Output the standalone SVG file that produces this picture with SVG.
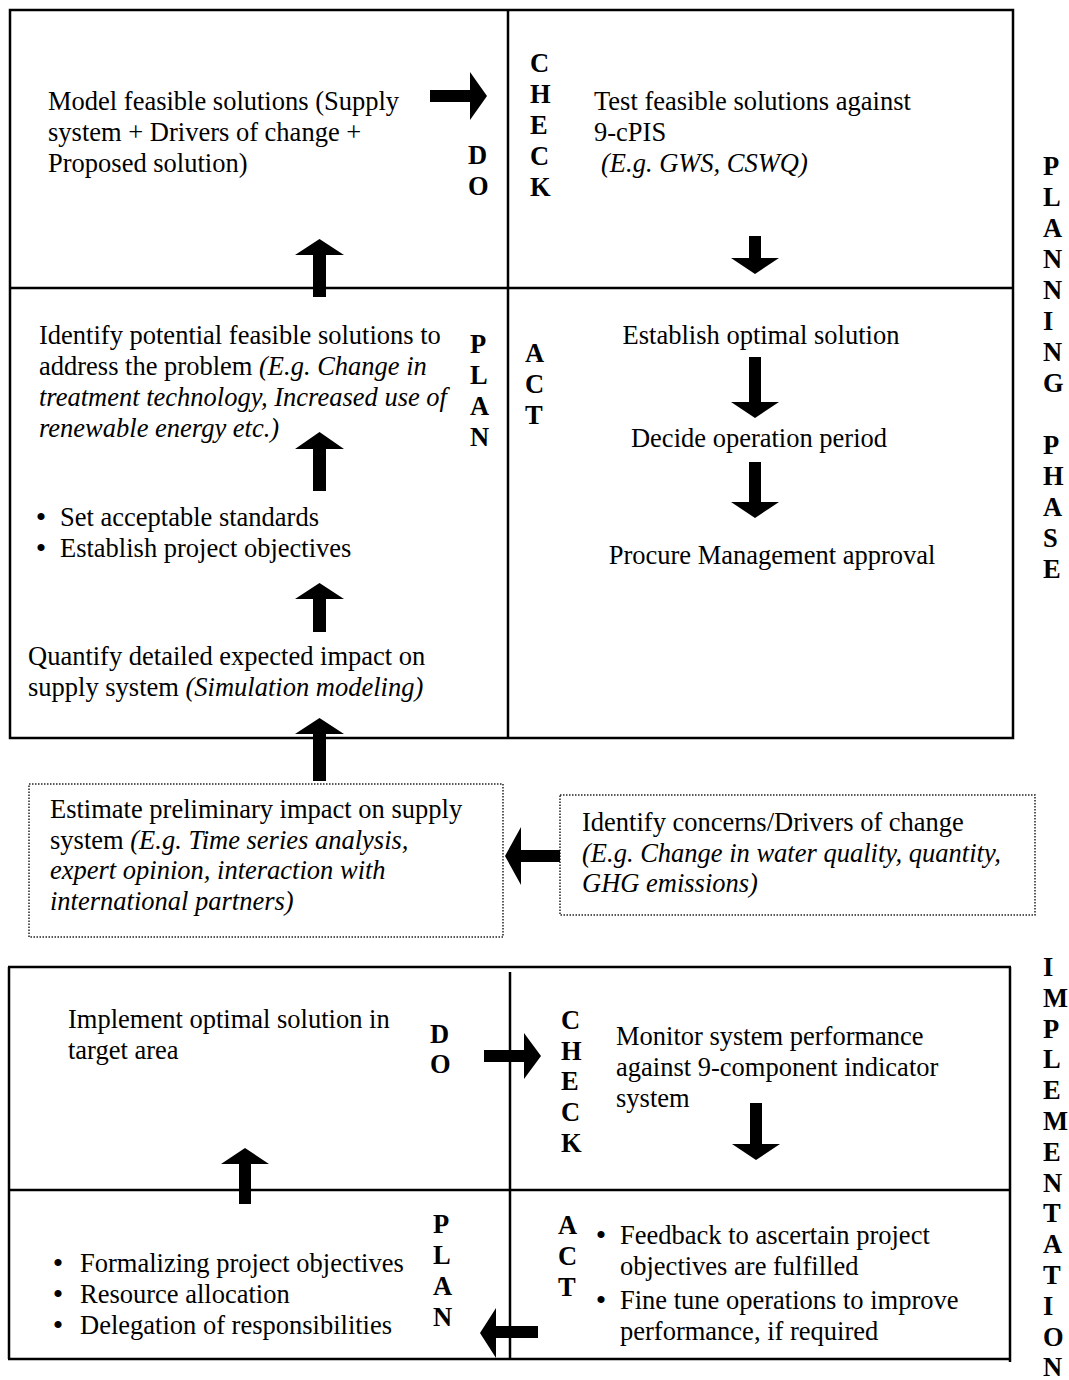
<svg xmlns="http://www.w3.org/2000/svg" width="1069" height="1380" viewBox="0 0 1069 1380">
<style>
text{font-family:"Liberation Serif","Times New Roman",serif;font-size:26.5px;fill:#000}
.i{font-style:italic}
.b{font-weight:bold}
.c{text-anchor:middle}
.bu{text-anchor:middle;font-size:30px}
.frame{fill:none;stroke:#000;stroke-width:2.5}
.dot{fill:none;stroke:#222;stroke-width:1.5;stroke-dasharray:1.5 1.5}
.arrow{fill:#000;stroke:none}
</style>
<rect width="1069" height="1380" fill="#fff"/>

<g id="planning-frame">
<rect class="frame" x="10" y="10" width="1003" height="728"/>
<line class="frame" x1="508" y1="10" x2="508" y2="738"/>
<line class="frame" x1="10" y1="288" x2="1013" y2="288"/>
</g>

<g id="planning-do">
<text x="48" y="110">Model feasible solutions (Supply</text>
<text x="48" y="141">system + Drivers of change +</text>
<text x="48" y="172">Proposed solution)</text>
<text class="b" x="468" y="164">D</text>
<text class="b" x="468" y="195">O</text>
</g>

<g id="planning-check">
<text class="b" x="530" y="72">C</text>
<text class="b" x="530" y="103">H</text>
<text class="b" x="530" y="134">E</text>
<text class="b" x="530" y="165">C</text>
<text class="b" x="530" y="196">K</text>
<text x="594" y="110">Test feasible solutions against</text>
<text x="594" y="141">9-cPIS</text>
<text class="i" x="601" y="172">(E.g. GWS, CSWQ)</text>
</g>

<g id="planning-plan">
<text x="39" y="344">Identify potential feasible solutions to</text>
<text x="39" y="375">address the problem <tspan class="i">(E.g. Change in</tspan></text>
<text class="i" x="39" y="406">treatment technology, Increased use of</text>
<text class="i" x="39" y="437">renewable energy etc.)</text>
<text class="b" x="470" y="353">P</text>
<text class="b" x="470" y="384">L</text>
<text class="b" x="470" y="415">A</text>
<text class="b" x="470" y="446">N</text>
<text class="bu" x="41" y="527">•</text>
<text x="60" y="526">Set acceptable standards</text>
<text class="bu" x="41" y="558">•</text>
<text x="60" y="557">Establish project objectives</text>
<text x="28" y="665">Quantify detailed expected impact on</text>
<text x="28" y="696">supply system <tspan class="i">(Simulation modeling)</tspan></text>
</g>

<g id="planning-act">
<text class="b" x="525" y="362">A</text>
<text class="b" x="525" y="393">C</text>
<text class="b" x="525" y="424">T</text>
<text class="c" x="761" y="344">Establish optimal solution</text>
<text class="c" x="759" y="447">Decide operation period</text>
<text class="c" x="772" y="564">Procure Management approval</text>
</g>

<g id="planning-phase-label">
<text class="b" x="1043" y="175">P</text>
<text class="b" x="1043" y="206">L</text>
<text class="b" x="1043" y="237">A</text>
<text class="b" x="1043" y="268">N</text>
<text class="b" x="1043" y="299">N</text>
<text class="b" x="1043" y="330">I</text>
<text class="b" x="1043" y="361">N</text>
<text class="b" x="1043" y="392">G</text>
<text class="b" x="1043" y="454">P</text>
<text class="b" x="1043" y="485">H</text>
<text class="b" x="1043" y="516">A</text>
<text class="b" x="1043" y="547">S</text>
<text class="b" x="1043" y="578">E</text>
</g>

<g id="estimate-impact">
<rect class="dot" x="29" y="784" width="474" height="153"/>
<text x="50" y="818">Estimate preliminary impact on supply</text>
<text x="50" y="849">system <tspan class="i">(E.g. Time series analysis,</tspan></text>
<text class="i" x="50" y="879">expert opinion, interaction with</text>
<text class="i" x="50" y="910">international partners)</text>
</g>

<g id="identify-concerns">
<rect class="dot" x="560" y="795" width="475" height="120"/>
<text x="582" y="831">Identify concerns/Drivers of change</text>
<text class="i" x="582" y="862">(E.g. Change in water quality, quantity,</text>
<text class="i" x="582" y="892">GHG emissions)</text>
</g>

<g id="implementation-frame">
<line class="frame" x1="8" y1="967" x2="1011" y2="967"/>
<line class="frame" x1="9" y1="967" x2="9" y2="1359"/>
<line class="frame" x1="1010" y1="967" x2="1010" y2="1362"/>
<line class="frame" x1="8" y1="1359" x2="1010" y2="1359"/>
<line class="frame" x1="510" y1="972" x2="510" y2="1359"/>
<line class="frame" x1="9" y1="1190" x2="1010" y2="1190"/>
</g>

<g id="implementation-do">
<text x="68" y="1028">Implement optimal solution in</text>
<text x="68" y="1059">target area</text>
<text class="b" x="430" y="1043">D</text>
<text class="b" x="430" y="1073">O</text>
</g>

<g id="implementation-check">
<text class="b" x="561" y="1029">C</text>
<text class="b" x="561" y="1060">H</text>
<text class="b" x="561" y="1090">E</text>
<text class="b" x="561" y="1121">C</text>
<text class="b" x="561" y="1152">K</text>
<text x="616" y="1045">Monitor system performance</text>
<text x="616" y="1076">against 9-component indicator</text>
<text x="616" y="1107">system</text>
</g>

<g id="implementation-plan">
<text class="b" x="433" y="1233">P</text>
<text class="b" x="433" y="1264">L</text>
<text class="b" x="433" y="1295">A</text>
<text class="b" x="433" y="1326">N</text>
<text class="bu" x="58" y="1273">•</text>
<text x="80" y="1272">Formalizing project objectives</text>
<text class="bu" x="58" y="1304">•</text>
<text x="80" y="1303">Resource allocation</text>
<text class="bu" x="58" y="1335">•</text>
<text x="80" y="1334">Delegation of responsibilities</text>
</g>

<g id="implementation-act">
<text class="b" x="558" y="1234">A</text>
<text class="b" x="558" y="1265">C</text>
<text class="b" x="558" y="1296">T</text>
<text class="bu" x="601" y="1245">•</text>
<text x="620" y="1244">Feedback to ascertain project</text>
<text x="620" y="1275">objectives are fulfilled</text>
<text class="bu" x="601" y="1310">•</text>
<text x="620" y="1309">Fine tune operations to improve</text>
<text x="620" y="1340">performance, if required</text>
</g>

<g id="implementation-phase-label">
<text class="b" x="1043" y="976">I</text>
<text class="b" x="1043" y="1007">M</text>
<text class="b" x="1043" y="1038">P</text>
<text class="b" x="1043" y="1068">L</text>
<text class="b" x="1043" y="1099">E</text>
<text class="b" x="1043" y="1130">M</text>
<text class="b" x="1043" y="1161">E</text>
<text class="b" x="1043" y="1192">N</text>
<text class="b" x="1043" y="1222">T</text>
<text class="b" x="1043" y="1253">A</text>
<text class="b" x="1043" y="1284">T</text>
<text class="b" x="1043" y="1315">I</text>
<text class="b" x="1043" y="1346">O</text>
<text class="b" x="1043" y="1376">N</text>
</g>

<g id="connectors">
<polygon class="arrow" points="430,90 470,90 470,72 487,96 470,120 470,102 430,102"/>
<polygon class="arrow" points="313,297 313,255 295,255 319.5,239 344,255 326,255 326,297"/>
<polygon class="arrow" points="749,236 761,236 761,258 779,258 755,274 731,258 749,258"/>
<polygon class="arrow" points="313,491 313,449 295,449 319.5,432 344,449 326,449 326,491"/>
<polygon class="arrow" points="313,632 313,599 295,599 319.5,583 344,599 326,599 326,632"/>
<polygon class="arrow" points="313,781 313,734 295,734 319.5,718 344,734 326,734 326,781"/>
<polygon class="arrow" points="749,357 761,357 761,402 779,402 755,418 731,402 749,402"/>
<polygon class="arrow" points="749,462 761,462 761,502 779,502 755,518 731,502 749,502"/>
<polygon class="arrow" points="560,850 521,850 521,827 505,856 521,885 521,862 560,862"/>
<polygon class="arrow" points="484,1050 524,1050 524,1033 541,1056 524,1079 524,1062 484,1062"/>
<polygon class="arrow" points="750,1103 762,1103 762,1144 780,1144 756,1160 732,1144 750,1144"/>
<polygon class="arrow" points="239,1204 239,1164 221,1164 245,1148 269,1164 251,1164 251,1204"/>
<polygon class="arrow" points="538,1326 496,1326 496,1308 480,1333 496,1358 496,1338 538,1338"/>
</g>
</svg>
